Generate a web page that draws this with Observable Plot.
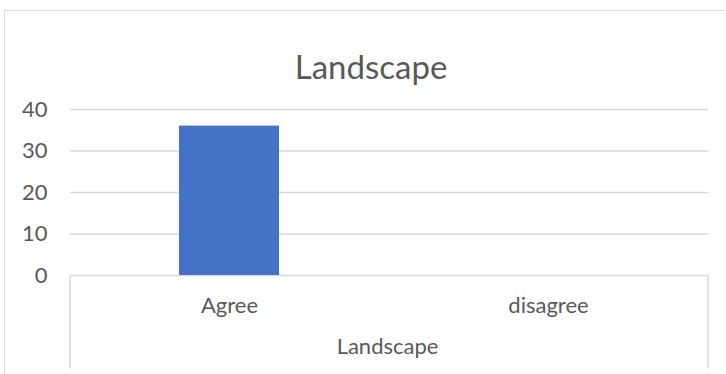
<!DOCTYPE html>
<html><head><meta charset="utf-8">
<script src="https://cdn.jsdelivr.net/npm/d3@7"></script>
<script src="https://cdn.jsdelivr.net/npm/@observablehq/plot@0.6"></script>
<style>
html,body{margin:0;padding:0;background:#fff;overflow:hidden;width:726px;height:374px;}
#wrap{position:relative;width:726px;height:374px;}
#border{position:absolute;left:4px;top:10px;width:900px;height:600px;border:1.5px solid #d9d9d9;box-sizing:border-box;pointer-events:none;}
#chart{position:absolute;left:0;top:0;}
</style></head><body><div id="wrap"><div id="border"></div><div id="chart"></div></div>
<script>
const title = "Landscape";
const categories = ["Agree", "disagree"];
const values = [36, 0];
const groupLabel = "Landscape";
const yTicks = [0, 10, 20, 30, 40];

const data = categories.map((c, i) => ({category: c, value: values[i]}));
const W = 726, H = 374, mL = 70, mR = 18, mT = 109, mB = 99;
const step = (W - mL - mR) / categories.length;
const font = "Lato, 'Open Sans', sans-serif";
const grey = "#d9d9d9", ink = "#595959";

const chart = Plot.plot({
  width: W, height: H,
  marginLeft: mL, marginRight: mR, marginTop: mT, marginBottom: mB,
  style: {fontFamily: font, color: ink, background: "transparent", overflow: "visible"},
  x: {domain: categories, paddingInner: 0.6865, paddingOuter: 0.343},
  y: {domain: [0, 40]},
  marks: [
    Plot.gridY(yTicks, {stroke: grey, strokeOpacity: 1, strokeWidth: 1.5}),
    Plot.axisY(yTicks, {tickSize: 0, tickPadding: 23, fontSize: 22, label: null}),
    Plot.barY(data, {x: "category", y: "value", fill: "#4472c4"}),
    Plot.axisX({tickSize: 0, tickPadding: 22, fontSize: 22, label: null}),
    Plot.ruleX([categories[0]], {x: d => d, y1: 0, y2: -22.5, dx: -step / 2, stroke: grey, strokeWidth: 1.5}),
    Plot.ruleX([categories[categories.length - 1]], {x: d => d, y1: 0, y2: -22.5, dx: step / 2, stroke: grey, strokeWidth: 1.5}),
    Plot.text([groupLabel], {frameAnchor: "bottom", dx: -2, dy: 78, fontSize: 22, fill: ink}),
    Plot.text([title], {frameAnchor: "top", dx: -18.5, dy: -54, fontSize: 33, fontWeight: 400, fill: ink})
  ]
});
document.getElementById("chart").appendChild(chart);
</script>
</body></html>
